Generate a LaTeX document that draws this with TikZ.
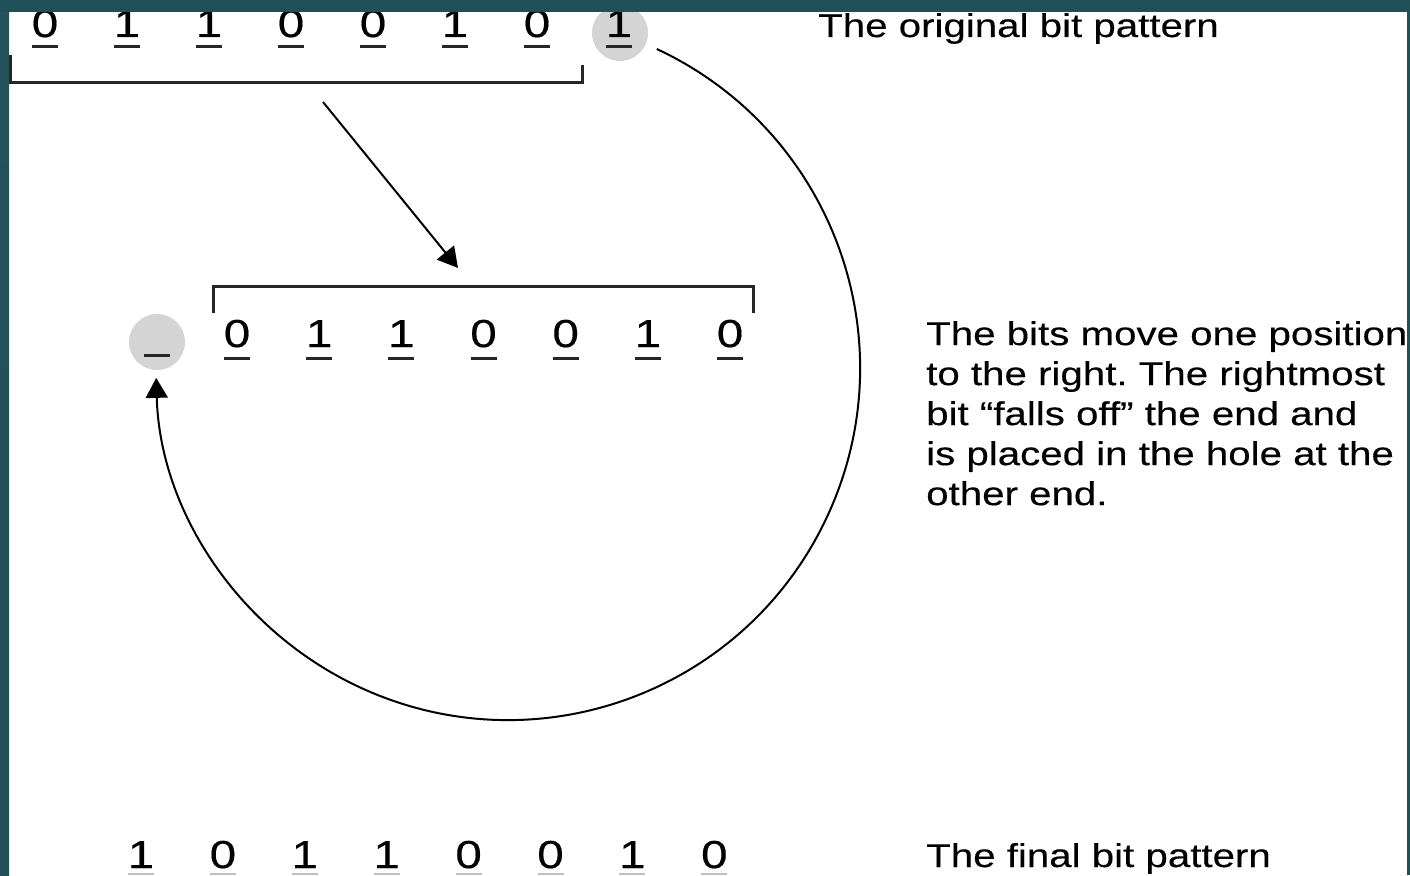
\documentclass[tikz,border=0pt]{standalone}
\usepackage{fontspec}
\newfontfamily\uni[FakeStretch=1.22,FakeBold=0.35]{Liberation Sans}
\usetikzlibrary{arrows.meta}
\definecolor{teald}{HTML}{1F4F57}
\definecolor{tealm}{HTML}{3A7A6F}
\definecolor{holegray}{HTML}{D4D4D4}
\frenchspacing
\begin{document}
\begin{tikzpicture}[x=1pt,y=1pt,
  bit/.style={font=\uni\fontsize{39}{39}\selectfont, anchor=base, inner sep=0pt},
  lbl/.style={font=\uni\fontsize{33}{40}\selectfont, inner sep=0pt, align=left},
  hole/.style={circle, fill=holegray, minimum size=56pt, inner sep=0pt},
  ul/.style={line width=3pt, black!85},
  ulg/.style={line width=2pt, black!25},
  brk/.style={line width=3pt, black!85},
  arr/.style={-{Triangle[length=20pt,width=22pt]}, line width=2pt}]
\useasboundingbox (0,0) rectangle (1410,-875);
\fill[white] (0,0) rectangle (1410,-875);

% top row
\node[hole] (h1) at (620,-33) {};
\foreach \b [count=\i] in {0,1,1,0,0,1,0,1} {
  \pgfmathsetmacro\xx{45+82*(\i-1)}
  \node[bit] (t\i) at (\xx,-37) {\b};
  \draw[ul] ([xshift=-13pt,yshift=-10pt]t\i.base) -- ++(26,0);
}
\draw[brk] (10,-55) |- (582,-82) -- (582,-65);

% middle row
\node[hole] (h2) at (157,-342) {};
\draw[ul] ([xshift=-13pt,yshift=-13pt]h2.center) -- ++(26,0);
\foreach \b [count=\i] in {0,1,1,0,0,1,0} {
  \pgfmathsetmacro\xx{237+82.17*(\i-1)}
  \node[bit] (m\i) at (\xx,-347) {\b};
  \draw[ul] ([xshift=-13pt,yshift=-11pt]m\i.base) -- ++(26,0);
}
\draw[brk] (213,-313) |- (753,-286) -- (753,-313);

% bottom row
\foreach \b [count=\i] in {1,0,1,1,0,0,1,0} {
  \pgfmathsetmacro\xx{141+81.9*(\i-1)}
  \node[bit] (b\i) at (\xx,-868) {\b};
  \draw[ulg] ([xshift=-13pt,yshift=-6pt]b\i.base) -- ++(26,0);
}

% arrows
\coordinate (d1) at (323,-102);
\coordinate (d2) at (458,-268);
\draw[arr] (d1) -- (d2);
\coordinate (a1) at (656.8,-49.0);
\draw[arr] (a1) arc[start angle=65, end angle=-178.4, radius=352pt];

% texts
\node[lbl, anchor=base west] (orig) at (818,-37) {The original bit pattern};
\node[lbl, anchor=north west] (expl) at (926,-321) {The bits move one position\\to the right. The rightmost\\bit “falls off” the end and\\is placed in the hole at the\\other end.};
\node[lbl, anchor=base west] (final) at (926,-867) {The final bit pattern};

% frame
\fill[top color=teald!90!tealm, bottom color=teald] (0,0) rectangle (9,-875);
\fill[left color=teald, middle color=tealm, right color=teald] (0,0) rectangle (1410,-12);
\fill[teald] (1407,0) rectangle (1410,-875);
\end{tikzpicture}
\end{document}
